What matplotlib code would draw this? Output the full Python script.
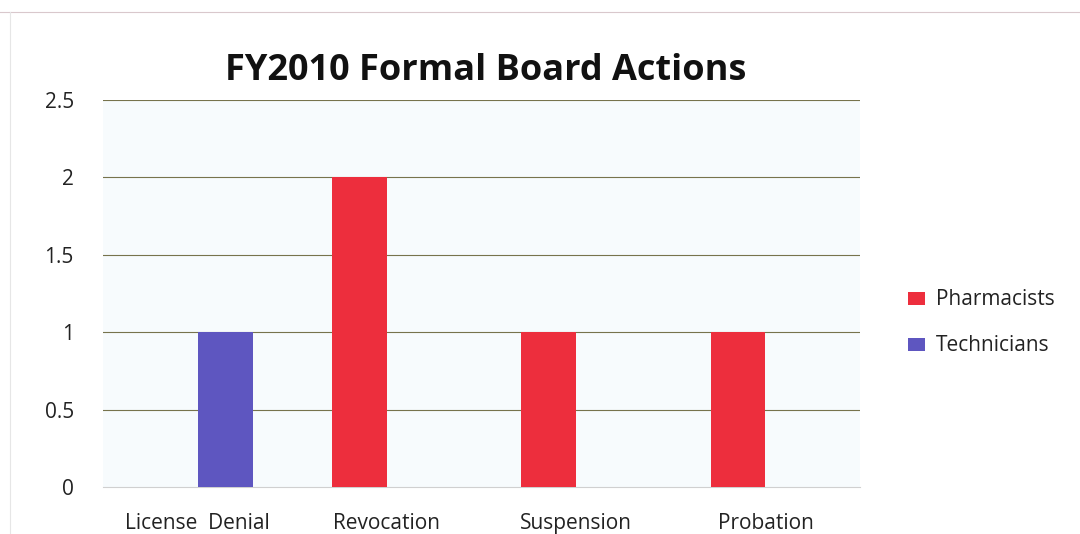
import numpy as np
import matplotlib
matplotlib.use("Agg")
import matplotlib.pyplot as plt
from matplotlib.lines import Line2D

plt.rcParams['font.family'] = ['Open Sans', 'DejaVu Sans']

# FY2010 board actions by license type
actions = ['License  Denial', 'Revocation', 'Suspension', 'Probation']
pharmacists = [0, 2, 1, 1]
technicians = [1, 0, 0, 0]
yticks = [0, 0.5, 1, 1.5, 2, 2.5]
ytick_labels = ['0', '0.5', '1', '1.5', '2', '2.5']

red = '#ed2e3d'
blue = '#5e56c0'

fig = plt.figure(figsize=(10.8, 5.34), dpi=100)
ax = fig.add_axes([0.0954, 0.088, 0.701, 0.7247])
ax.set_facecolor('#f7fbfd')

x = np.arange(len(actions))
w = 0.29
ax.bar(x - w / 2, pharmacists, w, color=red, label='Pharmacists', zorder=3)
ax.bar(x + w / 2, technicians, w, color=blue, label='Technicians', zorder=3)

ax.set_xlim(-0.5, len(actions) - 0.5)
ax.set_ylim(0, 2.5)
ax.set_yticks(yticks)
ax.set_yticklabels(ytick_labels)
ax.set_xticks(x)
ax.set_xticklabels(actions)
ax.tick_params(axis='y', length=0, pad=21, labelsize=15, colors='#222222')
ax.tick_params(axis='x', length=0, pad=19, labelsize=15, colors='#222222')

for v in yticks[1:]:
    ax.axhline(v, color='#77734c', linewidth=0.8, zorder=1)

for s in ['top', 'right', 'left']:
    ax.spines[s].set_visible(False)
ax.spines['bottom'].set_color('#d0d0d0')
ax.spines['bottom'].set_linewidth(0.8)

fig.text(0.4495, 1 - 80 / 534, 'FY2010 Formal Board Actions', fontsize=26,
         fontweight='bold', color='#111111', ha='center', va='baseline')

leg = ax.legend(loc='center left', bbox_to_anchor=(1.038, 0.424), frameon=False,
                fontsize=15, handlelength=0.82, handleheight=0.58,
                handletextpad=0.55, labelspacing=1.2)
for t in leg.get_texts():
    t.set_color('#222222')

# page edges of the scanned sheet
fig.add_artist(Line2D([0, 1], [0.978, 0.978], color='#d9c8cc', linewidth=0.8))
fig.add_artist(Line2D([0.0095, 0.0095], [0, 0.978], color='#e6e6e6', linewidth=0.8))

fig.savefig('out.png', dpi=100)
